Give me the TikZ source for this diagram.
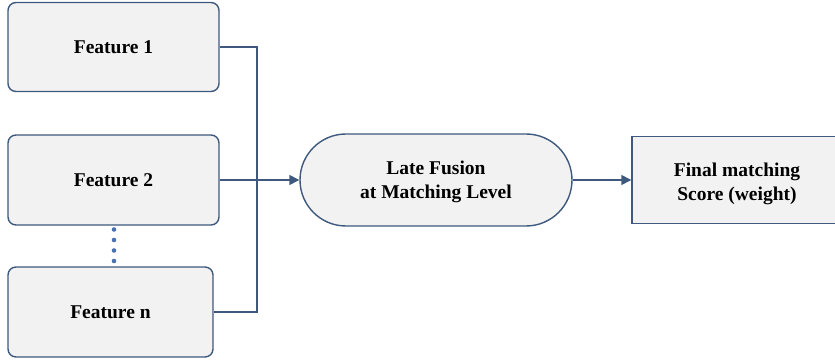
\documentclass[tikz,border=0pt]{standalone}
\usepackage{fontspec}
\setmainfont{Liberation Serif}[BoldFont={Liberation Serif Bold}]
\usetikzlibrary{arrows.meta}
\definecolor{edgeblue}{RGB}{62,89,125}
\definecolor{boxfill}{RGB}{242,242,242}
\definecolor{dotblue}{RGB}{74,114,176}
\begin{document}
\begin{tikzpicture}[x=1pt,y=-1pt,
  txt/.style={font=\fontsize{19.5}{24}\selectfont\bfseries,align=center,inner sep=0pt},
  box/.style={draw=edgeblue,fill=boxfill,line width=1.4pt,txt},
  feat/.style={box,rounded corners=8pt},
  link/.style={draw=edgeblue,line width=1.4pt},
  arr/.style={link,-{Triangle[length=10pt,width=10pt]}}]
  \useasboundingbox (0,0) rectangle (835,363);
  \node[feat,minimum width=211pt,minimum height=89pt] (f1) at (113.5,47) {Feature 1};
  \node[feat,minimum width=211pt,minimum height=90pt] (f2) at (113.5,180) {Feature 2};
  \node[feat,minimum width=205pt,minimum height=90pt] (fn) at (110.5,312) {Feature n};
  \node[box,rounded corners=46pt,minimum width=272pt,minimum height=92pt] (fuse) at (436,180)
    {};
  \node[txt] (fusetxt) at ([yshift=-2pt]fuse.center) {Late Fusion\\at Matching Level};
  \node[box,minimum width=210pt,minimum height=87pt] (score) at (737,180) {};
  \node[txt] (scoretxt) at ([yshift=-4pt]score.center) {Final matching\\Score (weight)};
  % dots between Feature 2 and Feature n
  \foreach \yy in {229.5,240,250.5,261}
    \fill[dotblue] (114,\yy) circle (2.3pt);
  % collecting bus
  \coordinate (bt) at (257,47);
  \coordinate (bb) at (257,312);
  \draw[link] (f1.east) -- (bt) -- (bb) -- (fn.east);
  \draw[arr] (f2.east) -- (fuse.west);
  \draw[arr] (fuse.east) -- (score.west);
\end{tikzpicture}
\end{document}
